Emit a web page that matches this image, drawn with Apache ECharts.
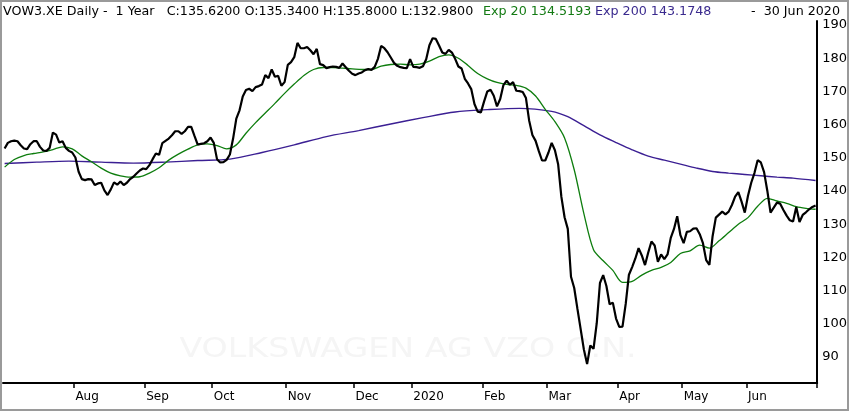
<!DOCTYPE html>
<html>
<head>
<meta charset="utf-8">
<script src="https://cdn.jsdelivr.net/npm/echarts@6/dist/echarts.min.js"></script>
<style>
html,body{margin:0;padding:0;background:#fff;}
#chart{width:850px;height:412px;}
</style>
</head>
<body>
<div id="chart"></div>
<script>
// ---- data ----
const firstDay = '2019-07-02';
const lastDay = '2020-06-30';
const holidays = ['2019-12-24','2019-12-25','2019-12-26','2019-12-31','2020-01-01','2020-04-10','2020-04-13','2020-05-01'];
const monthLabels = ['2020','Feb','Mar','Apr','May','Jun','Jul','Aug','Sep','Oct','Nov','Dec'];
const yTickValues = [90,100,110,120,130,140,150,160,170,180,190];

const closes = [
152.8,154.5,155.0,155.2,155.0,153.8,152.8,152.6,154.1,155.0,
155.0,153.3,152.2,152.1,153.0,157.6,157.0,154.6,155.0,153.0,
152.1,151.6,150.1,145.8,143.6,143.3,143.6,143.5,141.8,142.3,
142.5,140.2,138.8,140.5,142.6,141.9,142.9,141.8,142.5,143.6,
144.3,145.3,146.2,146.8,146.6,147.8,149.6,151.3,150.9,154.4,
155.1,155.8,156.8,158.0,158.0,157.2,158.0,159.3,159.3,156.6,
154.0,154.2,154.4,155.0,156.1,154.5,149.6,148.6,148.7,149.4,
151.0,155.8,161.8,164.3,168.5,170.4,170.8,170.1,171.3,171.6,
172.1,174.9,174.0,176.6,174.4,174.7,171.7,172.8,178.0,178.8,
180.3,184.6,183.0,183.0,183.4,182.4,181.2,182.8,178.2,177.9,
177.0,177.3,177.5,177.4,177.1,178.4,177.3,176.2,175.3,174.9,
175.4,175.7,176.4,176.7,176.5,177.4,179.8,183.7,183.0,181.8,
180.2,178.6,177.7,177.3,177.1,177.0,179.7,177.4,177.3,177.1,
177.6,179.7,183.9,186.0,185.8,183.8,181.7,181.3,182.5,181.7,
179.8,177.5,176.9,173.8,172.4,170.7,166.2,163.9,163.7,167.0,
170.0,170.5,168.7,165.5,167.7,171.9,173.2,172.0,172.8,170.2,
170.1,169.8,168.0,161.2,156.9,155.1,152.0,149.2,149.2,151.6,
154.5,152.3,148.1,138.3,132.1,128.6,114.2,110.8,104.5,98.4,
92.3,87.9,93.5,92.5,100.2,112.3,114.7,111.4,105.9,106.4,
101.6,99.1,99.2,106.0,114.8,117.1,119.7,122.8,120.6,117.7,
121.5,124.8,123.6,118.7,120.9,119.5,120.9,125.9,128.6,132.4,
126.7,124.3,127.7,127.9,128.7,128.8,127.0,124.3,119.2,117.8,
126.4,132.0,132.9,133.8,133.0,133.8,135.8,138.3,139.7,136.8,
133.5,138.6,142.5,145.4,149.3,148.6,145.7,140.1,133.5,135.0,
136.5,136.2,134.3,132.6,131.2,130.8,135.2,130.7,132.8,133.6,
134.5,135.2,135.62
];

// [trading-day index, value]
const ema20 = [
[0,147.2],[3,149.5],[6,150.7],[9,151.3],[12,151.8],[15,152.5],[18,153.3],[21,152.7],
[24,150.6],[27,148.8],[30,146.9],[33,145.4],[36,144.6],[39,144.2],[42,144.3],[45,145.4],
[48,147.0],[51,149.3],[54,151.1],[57,152.6],[60,153.9],[63,154.2],[66,153.7],[69,152.7],
[72,153.9],[75,157.4],[78,160.6],[81,163.5],[84,166.4],[87,169.4],[90,172.2],[93,174.8],
[96,176.6],[99,177.2],[102,177.2],[105,177.0],[108,176.8],[111,176.6],[114,176.6],[117,177.6],
[120,178.1],[123,178.2],[126,178.0],[129,178.2],[132,179.1],[135,180.5],[138,181.0],[141,180.0],
[144,177.8],[147,175.4],[150,173.8],[153,172.7],[156,172.1],[159,171.8],[162,171.0],[165,168.6],
[168,164.6],[171,160.9],[174,156.0],[177,146.4],[180,133.2],[183,122.3],[186,119.0],[189,116.1],
[192,112.5],[195,112.8],[198,114.7],[201,116.1],[204,117.0],[207,118.5],[210,121.2],[213,122.0],
[216,123.7],[219,122.8],[222,125.0],[225,127.5],[228,130.0],[231,132.0],[234,135.4],[237,137.8],
[240,137.0],[243,136.3],[246,135.3],[249,134.8],[252,134.52]
];

const ema200 = [
[0,148.3],[10,148.7],[20,149.0],[30,148.7],[40,148.4],[50,148.7],[60,149.2],[70,149.6],
[80,151.6],[90,153.9],[100,156.4],[110,158.2],[120,160.2],[130,162.1],[140,163.8],[150,164.5],
[160,164.9],[170,164.0],[175,162.4],[180,159.7],[185,156.9],[190,154.6],[195,152.4],[200,150.5],
[205,149.3],[210,148.1],[215,146.9],[220,145.9],[225,145.4],[230,145.0],[235,144.6],[240,144.2],
[245,143.9],[252,143.17]
];

// ---- trading-day calendar (categories) ----
function pad(n){return n<10?'0'+n:''+n;}
const dates = [];
(function(){
  const d = new Date(firstDay + 'T12:00:00Z');
  const end = new Date(lastDay + 'T12:00:00Z');
  while (d <= end) {
    const wd = d.getUTCDay();
    const s = d.getUTCFullYear() + '-' + pad(d.getUTCMonth()+1) + '-' + pad(d.getUTCDate());
    if (wd !== 0 && wd !== 6 && holidays.indexOf(s) < 0) dates.push(s);
    d.setUTCDate(d.getUTCDate()+1);
  }
})();
function monthOf(i){return parseInt(dates[i].slice(5,7),10);}
function isMonthStart(i){return i>0 && monthOf(i)!==monthOf(i-1);}

const FONT = 'DejaVu Sans';
const chart = echarts.init(document.getElementById('chart'), null, {renderer:'canvas'});
chart.setOption({
  animation:false,
  backgroundColor:'#ffffff',
  grid:{left:3, right:29, top:21, bottom:29, containLabel:false},
  xAxis:{
    type:'category',
    data:dates,
    boundaryGap:true,
    axisLine:{show:true, lineStyle:{color:'#000', width:2}},
    axisTick:{show:true, length:5, interval:function(i){return isMonthStart(i);}, lineStyle:{color:'#000', width:1.5}},
    axisLabel:{
      show:true, interval:function(i){return isMonthStart(i);},
      formatter:function(v){return monthLabels[parseInt(v.slice(5,7),10)-1];},
      align:'left', color:'#000', fontFamily:FONT, fontSize:12, margin:8
    },
    splitLine:{show:false}
  },
  yAxis:{
    type:'value',
    position:'right',
    min:82.2, max:191.2,
    axisLine:{show:true, lineStyle:{color:'#000', width:2}},
    axisTick:{show:false},
    axisLabel:{show:true, customValues:yTickValues, color:'#000', fontFamily:FONT, fontSize:13, margin:5},
    splitLine:{show:false}
  },
  graphic:[
    {type:'rect', shape:{x:1,y:1,width:847,height:409}, style:{fill:'none', stroke:'#9a9a9a', lineWidth:2}, z:100},
    {type:'text', x:408, y:350, scaleX:1.28, style:{text:'VOLKSWAGEN AG VZO O.N.', fill:'#f5f5f5', font:'26px "DejaVu Sans"', textAlign:'center', textVerticalAlign:'middle'}, z:-10},
    {type:'text', x:3, y:12, style:{text:'VOW3.XE Daily -  1 Year   C:135.6200 O:135.3400 H:135.8000 L:132.9800', fill:'#000', font:'12.7px "DejaVu Sans"', textVerticalAlign:'middle'}},
    {type:'text', x:483, y:12, style:{text:'Exp 20 134.5193', fill:'#137a13', font:'12.7px "DejaVu Sans"', textVerticalAlign:'middle'}},
    {type:'text', x:595, y:12, style:{text:'Exp 200 143.1748', fill:'#3a2a8e', font:'12.7px "DejaVu Sans"', textVerticalAlign:'middle'}},
    {type:'text', x:840, y:12, style:{text:'-  30 Jun 2020', fill:'#000', font:'12.7px "DejaVu Sans"', textAlign:'right', textVerticalAlign:'middle'}}
  ],
  series:[
    {name:'Exp 200', type:'line', data:ema200, showSymbol:false, smooth:0.3, lineStyle:{color:'#3b1f93', width:1.4}, z:3},
    {name:'Exp 20', type:'line', data:ema20, showSymbol:false, smooth:0.3, lineStyle:{color:'#0e7d0e', width:1.3}, z:4},
    {name:'Close', type:'line', data:closes, showSymbol:false, lineStyle:{color:'#000', width:2.2}, z:5}
  ]
});
</script>
</body>
</html>
